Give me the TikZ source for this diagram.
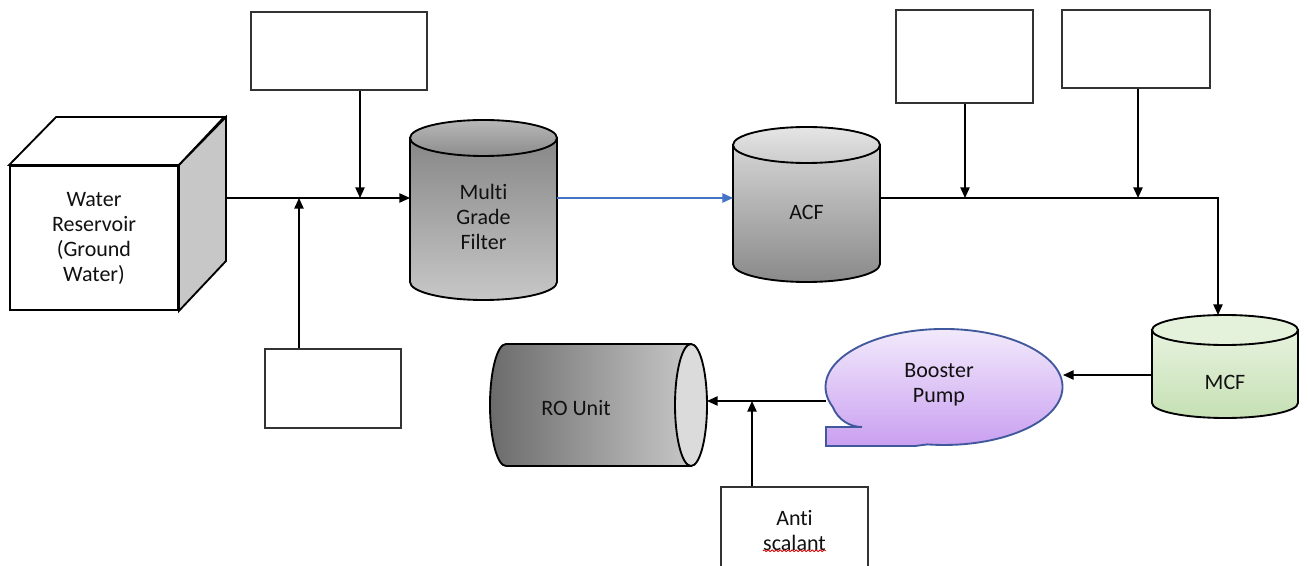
\documentclass[tikz,border=0pt]{standalone}
\usepackage{fontspec}
\setmainfont{Carlito}[Ligatures=NoCommon]
\usetikzlibrary{arrows.meta,decorations.pathmorphing}
\definecolor{txt}{HTML}{111111}
\definecolor{flowblue}{HTML}{4472C4}
\definecolor{pumpline}{HTML}{41589C}
\tikzset{
  conn/.style={line width=1.1pt, -{Triangle[length=8pt,width=7pt]}},
  emptybox/.style={draw=black!80, line width=1.3pt, fill=white, inner sep=0pt},
  outline/.style={draw=black, line width=1.4pt},
  lbl/.style={font=\fontsize{16.5}{18.75}\selectfont, align=center, text=txt, inner sep=0pt},
  bounds/.style={inner sep=0pt, outer sep=0pt}
}
\begin{document}
\begin{tikzpicture}[x=0.75pt,y=0.75pt]
\useasboundingbox (0,0) rectangle (1308,-566);

% ---------- Water reservoir (cube) ----------
\node[draw=black, line width=1.4pt, fill=white, minimum width=126pt, minimum height=108pt, lbl] (res) at (94,-238) {Water\\Reservoir\\(Ground\\Water)};
\path[outline, fill=white] (res.north west) -- ++(47,48) -- ++(168,0) -- (res.north east) -- cycle;
\path[outline, fill=black!22] (res.north east) -- ++(47,48) -- ++(0,-144) -- (res.south east) -- cycle;
\coordinate (resout) at (225,-198);

% ---------- empty boxes ----------
\node[emptybox, minimum width=132pt, minimum height=58.5pt] (b1) at (339,-51) {};
\node[emptybox, minimum width=102pt, minimum height=59.25pt] (b2) at (333,-388.5) {};
\node[emptybox, minimum width=102.75pt, minimum height=69.75pt] (b3) at (964.5,-56.5) {};
\node[emptybox, minimum width=111pt, minimum height=58.5pt] (b4) at (1136,-49) {};
\node[emptybox, minimum width=110.25pt, minimum height=62.25pt] (anti) at (794.5,-528.5) {};
\node[lbl] (antitxt) at (794.5,-531) {Anti\\scalant};
\draw[red!85!black, line width=0.6pt, decorate, decoration={snake, amplitude=0.7pt, segment length=3pt}] ([yshift=0.5pt]antitxt.south west) -- ([yshift=0.5pt]antitxt.south east);

% ---------- Multi Grade Filter ----------
\path[outline, top color=black!47, bottom color=black!22] (410,-138) -- (410,-282) arc[start angle=180,end angle=360,x radius=73.5,y radius=18] -- (557,-138) -- cycle;
\path[outline, top color=black!28, bottom color=black!45] (483.5,-138) ellipse[x radius=73.5, y radius=18];
\node[bounds, minimum width=110.25pt, minimum height=135pt] (mgf) at (483.5,-210) {};
\node[lbl] (mgftxt) at (483.5,-217) {Multi\\Grade\\Filter};

% ---------- ACF ----------
\path[outline, top color=black!17, bottom color=black!46] (733,-145) -- (733,-264) arc[start angle=180,end angle=360,x radius=73.5,y radius=18] -- (880,-145) -- cycle;
\path[outline, top color=black!10, bottom color=black!20] (806.5,-145) ellipse[x radius=73.5, y radius=18];
\node[bounds, minimum width=110.25pt, minimum height=116pt] (acf) at (806.5,-204.5) {};
\node[lbl] (acftxt) at (806.5,-212) {ACF};

% ---------- MCF ----------
\path[outline, top color={rgb,255:red,230;green,242;blue,222}, bottom color={rgb,255:red,198;green,224;blue,180}] (1152,-330) -- (1152,-403) arc[start angle=180,end angle=360,x radius=73,y radius=15] -- (1298,-330) -- cycle;
\path[outline, fill={rgb,255:red,228;green,241;blue,219}] (1225,-330) ellipse[x radius=73, y radius=15];
\node[bounds, minimum width=109.5pt, minimum height=77.25pt] (mcf) at (1225,-366.5) {};
\node[lbl] (mcftxt) at (1225,-382) {MCF};

% ---------- Booster pump ----------
\path[draw=pumpline, line width=1.4pt, top color={rgb,255:red,244;green,236;blue,252}, bottom color={rgb,255:red,200;green,158;blue,240}]
  (927.5,-444.4) arc[start angle=262,end angle=560,x radius=118.5,y radius=58]
  .. controls (838,-420) and (850,-427) .. (862,-427) -- (826,-427) -- (826,-446) -- (915,-446) -- cycle;
\node[bounds, minimum width=177.75pt, minimum height=87.75pt] (pump) at (944.5,-387.5) {};
\node[lbl] (pumptxt) at (939,-385) {Booster\\Pump};

% ---------- RO unit ----------
\path[outline, left color=black!58, right color=black!22] (691,-344) -- (506,-344) arc[start angle=90,end angle=270,x radius=16,y radius=61] -- (691,-466) -- cycle;
\path[outline, fill=black!14] (691,-405) ellipse[x radius=16, y radius=61];
\node[bounds, minimum width=162.75pt, minimum height=91.5pt] (ro) at (598.5,-405) {};
\node[lbl] (rotxt) at (576,-408) {RO Unit};

% ---------- connectors ----------
\coordinate (j1) at (299,-198);
\coordinate (j2) at (360,-198);
\draw[conn] (resout) -- (resout -| mgf.west);
\draw[conn] (j2 |- b1.south) -- (j2);
\draw[conn] (j1 |- b2.north) -- (j1);
\draw[line width=1.1pt, flowblue, -{Triangle[length=8pt,width=7pt]}] (mgf.east |- resout) -- (acf.west |- resout);

\coordinate (turn) at (1218,-198);
\coordinate (j3) at (965,-198);
\coordinate (j4) at (1138,-198);
\draw[conn] (acf.east |- resout) -- (turn) -- (turn |- mcf.north);
\draw[conn] (j3 |- b3.south) -- (j3);
\draw[conn] (j4 |- b4.south) -- (j4);

\coordinate (mcfout) at (1152,-375);
\draw[conn] (mcfout) -- (mcfout -| pump.east);

\coordinate (pumpout) at (826,-401);
\coordinate (j5) at (752,-401);
\draw[conn] (pumpout) -- (pumpout -| ro.east);
\draw[conn] (j5 |- anti.north) -- (j5);
\end{tikzpicture}
\end{document}
